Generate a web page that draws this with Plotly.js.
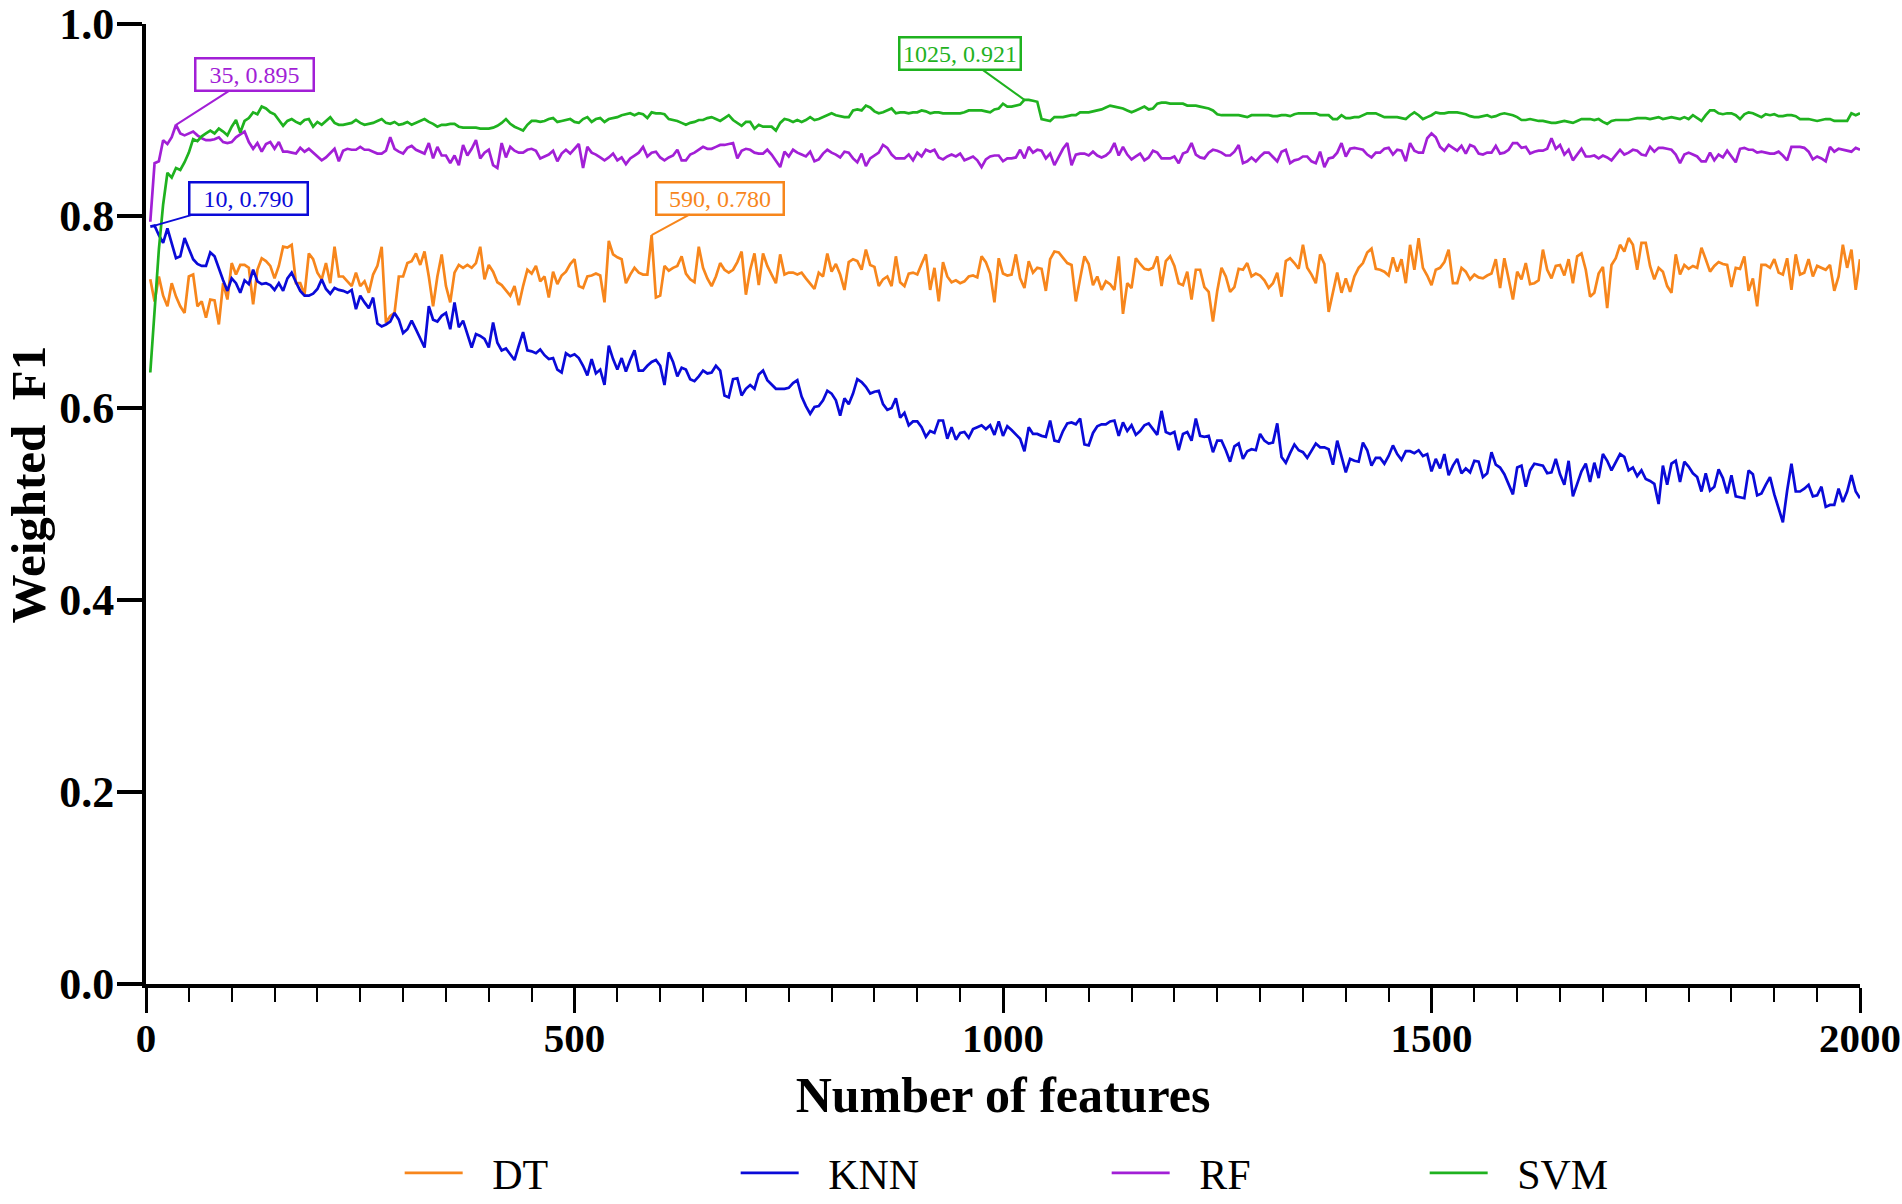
<!DOCTYPE html>
<html>
<head>
<meta charset="utf-8">
<script src="https://cdn.plot.ly/plotly-3.0.1.min.js"></script>
<style>
	html, body { margin: 0; padding: 0; background: #ffffff; }
	#chart { width: 1902px; height: 1204px; }
</style>
</head>
<body>
<div id="chart"></div>
<script>
'use strict';

// number of features goes 5, 10, ... 2000
const step = 5;
const maxFeatures = 2000;

// Weighted F1, one value per step
const dtF1 = [
	0.734,0.711,0.737,0.717,0.706,0.730,0.716,0.706,0.699,0.737,0.739,0.706,0.711,0.694,0.713,0.712,0.687,0.730,0.713,0.751,
	0.739,0.749,0.749,0.746,0.708,0.744,0.756,0.753,0.748,0.735,0.748,0.768,0.767,0.770,0.730,0.730,0.718,0.761,0.755,0.741,
	0.734,0.751,0.730,0.768,0.737,0.737,0.732,0.727,0.741,0.727,0.732,0.720,0.739,0.748,0.768,0.689,0.696,0.699,0.737,0.737,
	0.751,0.753,0.761,0.749,0.763,0.737,0.706,0.737,0.760,0.727,0.710,0.741,0.749,0.746,0.749,0.746,0.751,0.768,0.734,0.749,
	0.742,0.731,0.728,0.723,0.717,0.727,0.707,0.727,0.744,0.740,0.748,0.732,0.737,0.715,0.742,0.729,0.738,0.742,0.750,0.755,
	0.727,0.725,0.737,0.738,0.740,0.738,0.710,0.774,0.760,0.757,0.755,0.730,0.739,0.746,0.741,0.739,0.739,0.780,0.715,0.717,
	0.748,0.743,0.746,0.748,0.758,0.740,0.734,0.731,0.768,0.746,0.735,0.727,0.737,0.751,0.744,0.741,0.744,0.752,0.763,0.718,
	0.744,0.761,0.728,0.761,0.748,0.739,0.730,0.760,0.739,0.741,0.741,0.739,0.741,0.735,0.730,0.724,0.741,0.737,0.761,0.742,
	0.750,0.739,0.723,0.752,0.755,0.753,0.744,0.765,0.749,0.747,0.727,0.734,0.737,0.727,0.758,0.731,0.727,0.740,0.741,0.739,
	0.750,0.760,0.723,0.746,0.711,0.752,0.737,0.731,0.733,0.730,0.732,0.737,0.738,0.736,0.758,0.752,0.740,0.710,0.756,0.740,
	0.738,0.739,0.760,0.735,0.725,0.753,0.741,0.746,0.745,0.722,0.755,0.763,0.762,0.757,0.751,0.749,0.711,0.735,0.758,0.750,
	0.728,0.737,0.723,0.732,0.729,0.723,0.758,0.698,0.730,0.725,0.756,0.750,0.745,0.744,0.746,0.758,0.727,0.753,0.758,0.748,
	0.730,0.728,0.742,0.713,0.744,0.744,0.726,0.721,0.690,0.722,0.746,0.737,0.721,0.726,0.745,0.744,0.751,0.737,0.740,0.738,
	0.733,0.725,0.730,0.741,0.716,0.753,0.756,0.751,0.745,0.770,0.746,0.739,0.730,0.760,0.750,0.700,0.720,0.741,0.720,0.735,
	0.721,0.737,0.746,0.751,0.762,0.766,0.745,0.744,0.742,0.738,0.757,0.742,0.755,0.730,0.770,0.744,0.777,0.746,0.738,0.728,
	0.744,0.746,0.752,0.765,0.730,0.730,0.746,0.742,0.734,0.739,0.736,0.735,0.738,0.740,0.755,0.725,0.756,0.735,0.713,0.742,
	0.734,0.751,0.729,0.730,0.733,0.765,0.744,0.735,0.748,0.749,0.738,0.755,0.730,0.758,0.761,0.744,0.716,0.720,0.740,0.747,
	0.704,0.749,0.756,0.770,0.763,0.777,0.770,0.744,0.772,0.772,0.748,0.734,0.746,0.742,0.727,0.720,0.760,0.739,0.749,0.745,
	0.748,0.746,0.767,0.755,0.742,0.748,0.752,0.750,0.749,0.726,0.746,0.745,0.758,0.722,0.735,0.706,0.749,0.749,0.746,0.755,
	0.741,0.739,0.756,0.723,0.760,0.739,0.741,0.755,0.737,0.748,0.746,0.744,0.749,0.722,0.737,0.770,0.746,0.765,0.723,0.755
];

const knnF1 = [
	0.789,0.790,0.780,0.772,0.787,0.772,0.756,0.758,0.777,0.766,0.755,0.750,0.748,0.748,0.762,0.758,0.745,0.733,0.722,0.735,
	0.730,0.720,0.733,0.729,0.744,0.732,0.729,0.730,0.728,0.723,0.730,0.722,0.735,0.741,0.731,0.722,0.717,0.717,0.719,0.724,
	0.734,0.724,0.719,0.725,0.723,0.722,0.720,0.723,0.703,0.717,0.710,0.704,0.715,0.688,0.685,0.687,0.690,0.699,0.692,0.678,
	0.682,0.691,0.682,0.673,0.663,0.706,0.692,0.690,0.696,0.699,0.682,0.710,0.684,0.691,0.678,0.663,0.677,0.675,0.672,0.663,
	0.689,0.668,0.660,0.662,0.656,0.650,0.665,0.679,0.660,0.659,0.657,0.661,0.655,0.651,0.652,0.640,0.637,0.657,0.654,0.656,
	0.652,0.644,0.634,0.651,0.636,0.640,0.624,0.665,0.651,0.640,0.652,0.638,0.650,0.660,0.639,0.639,0.644,0.648,0.650,0.644,
	0.624,0.658,0.648,0.633,0.642,0.640,0.630,0.628,0.633,0.639,0.636,0.637,0.644,0.639,0.613,0.611,0.630,0.631,0.613,0.620,
	0.624,0.620,0.635,0.639,0.629,0.624,0.620,0.620,0.620,0.621,0.626,0.629,0.612,0.602,0.594,0.601,0.602,0.608,0.618,0.615,
	0.608,0.592,0.610,0.604,0.615,0.630,0.627,0.622,0.615,0.617,0.618,0.604,0.598,0.600,0.610,0.590,0.595,0.582,0.586,0.586,
	0.580,0.570,0.576,0.574,0.587,0.587,0.568,0.580,0.567,0.574,0.575,0.569,0.578,0.580,0.582,0.578,0.582,0.572,0.586,0.571,
	0.581,0.577,0.572,0.568,0.555,0.580,0.573,0.573,0.571,0.570,0.587,0.566,0.565,0.576,0.584,0.585,0.583,0.589,0.562,0.561,
	0.574,0.581,0.583,0.583,0.586,0.587,0.571,0.585,0.576,0.582,0.572,0.576,0.582,0.584,0.578,0.572,0.597,0.575,0.573,0.575,
	0.556,0.573,0.575,0.566,0.589,0.571,0.570,0.571,0.554,0.566,0.566,0.556,0.544,0.560,0.563,0.547,0.555,0.557,0.556,0.573,
	0.566,0.563,0.564,0.584,0.549,0.543,0.553,0.562,0.556,0.554,0.548,0.556,0.563,0.559,0.559,0.557,0.541,0.566,0.549,0.533,
	0.547,0.545,0.544,0.564,0.556,0.540,0.548,0.548,0.542,0.550,0.561,0.552,0.546,0.555,0.555,0.553,0.556,0.550,0.552,0.534,
	0.547,0.537,0.552,0.530,0.540,0.547,0.532,0.537,0.533,0.545,0.544,0.528,0.532,0.554,0.541,0.538,0.531,0.520,0.510,0.538,
	0.540,0.518,0.535,0.542,0.541,0.540,0.532,0.533,0.547,0.531,0.520,0.545,0.508,0.522,0.534,0.542,0.523,0.543,0.527,0.552,
	0.545,0.535,0.544,0.552,0.549,0.535,0.538,0.529,0.535,0.526,0.524,0.521,0.500,0.540,0.520,0.542,0.545,0.523,0.544,0.539,
	0.532,0.528,0.513,0.532,0.514,0.518,0.536,0.527,0.511,0.530,0.508,0.507,0.506,0.535,0.531,0.509,0.511,0.520,0.528,0.510,
	0.495,0.481,0.514,0.542,0.513,0.513,0.516,0.520,0.508,0.509,0.518,0.497,0.499,0.499,0.516,0.502,0.513,0.530,0.513,0.506
];

const rfF1 = [
	0.794,0.855,0.857,0.879,0.875,0.882,0.895,0.886,0.884,0.886,0.888,0.884,0.881,0.879,0.879,0.880,0.882,0.877,0.876,0.877,
	0.882,0.885,0.888,0.877,0.870,0.876,0.867,0.875,0.877,0.870,0.877,0.867,0.867,0.866,0.865,0.871,0.867,0.870,0.866,0.862,
	0.858,0.861,0.866,0.870,0.857,0.868,0.870,0.869,0.869,0.872,0.869,0.869,0.867,0.865,0.865,0.868,0.882,0.870,0.867,0.865,
	0.871,0.873,0.869,0.867,0.865,0.876,0.860,0.872,0.863,0.863,0.855,0.863,0.853,0.874,0.863,0.870,0.879,0.860,0.866,0.869,
	0.853,0.850,0.876,0.861,0.872,0.868,0.866,0.866,0.869,0.870,0.868,0.860,0.862,0.864,0.868,0.857,0.865,0.869,0.865,0.870,
	0.875,0.850,0.872,0.866,0.864,0.861,0.858,0.861,0.865,0.858,0.861,0.854,0.860,0.863,0.866,0.872,0.862,0.866,0.867,0.861,
	0.858,0.861,0.863,0.869,0.858,0.858,0.864,0.866,0.869,0.872,0.870,0.870,0.872,0.874,0.874,0.875,0.876,0.860,0.868,0.870,
	0.869,0.866,0.865,0.865,0.869,0.864,0.858,0.851,0.867,0.862,0.869,0.866,0.864,0.862,0.867,0.857,0.859,0.865,0.869,0.866,
	0.864,0.861,0.867,0.866,0.860,0.856,0.865,0.852,0.860,0.863,0.866,0.874,0.871,0.864,0.860,0.860,0.860,0.864,0.858,0.866,
	0.862,0.869,0.867,0.869,0.861,0.859,0.862,0.864,0.862,0.865,0.858,0.860,0.862,0.858,0.851,0.859,0.862,0.863,0.863,0.857,
	0.860,0.860,0.861,0.869,0.860,0.872,0.866,0.869,0.868,0.860,0.865,0.853,0.862,0.870,0.876,0.853,0.864,0.865,0.865,0.863,
	0.867,0.863,0.861,0.863,0.867,0.876,0.863,0.872,0.864,0.859,0.862,0.865,0.858,0.861,0.868,0.866,0.860,0.860,0.860,0.862,
	0.855,0.865,0.867,0.876,0.864,0.861,0.860,0.866,0.869,0.868,0.866,0.863,0.863,0.867,0.874,0.855,0.857,0.861,0.857,0.862,
	0.866,0.866,0.862,0.857,0.867,0.869,0.855,0.858,0.859,0.862,0.862,0.857,0.855,0.867,0.851,0.860,0.861,0.866,0.876,0.862,
	0.870,0.871,0.870,0.869,0.864,0.861,0.866,0.866,0.870,0.871,0.864,0.869,0.868,0.857,0.876,0.868,0.866,0.866,0.881,0.886,
	0.882,0.872,0.868,0.874,0.871,0.868,0.873,0.865,0.874,0.872,0.865,0.864,0.866,0.866,0.873,0.865,0.866,0.869,0.876,0.876,
	0.871,0.872,0.865,0.867,0.868,0.868,0.870,0.881,0.870,0.874,0.864,0.869,0.858,0.864,0.870,0.862,0.862,0.863,0.860,0.863,
	0.861,0.858,0.863,0.869,0.864,0.866,0.869,0.868,0.864,0.863,0.872,0.867,0.871,0.871,0.870,0.869,0.864,0.855,0.864,0.866,
	0.864,0.862,0.857,0.857,0.866,0.858,0.864,0.861,0.868,0.862,0.856,0.870,0.871,0.869,0.869,0.866,0.867,0.866,0.865,0.865,
	0.867,0.863,0.858,0.872,0.872,0.872,0.871,0.867,0.859,0.862,0.860,0.857,0.872,0.867,0.870,0.869,0.868,0.867,0.871,0.869
];

const svmF1 = [
	0.637,0.700,0.765,0.812,0.845,0.840,0.850,0.848,0.856,0.866,0.880,0.878,0.883,0.886,0.889,0.886,0.891,0.888,0.884,0.893,
	0.900,0.887,0.899,0.902,0.908,0.906,0.914,0.912,0.908,0.906,0.900,0.894,0.899,0.901,0.898,0.896,0.900,0.901,0.893,0.898,
	0.895,0.899,0.903,0.897,0.895,0.895,0.896,0.897,0.900,0.897,0.895,0.896,0.897,0.899,0.901,0.897,0.896,0.898,0.895,0.896,
	0.898,0.895,0.897,0.899,0.901,0.898,0.896,0.893,0.895,0.895,0.896,0.896,0.893,0.892,0.892,0.892,0.892,0.891,0.891,0.891,
	0.892,0.894,0.897,0.901,0.896,0.893,0.891,0.889,0.895,0.899,0.899,0.898,0.899,0.901,0.902,0.898,0.899,0.900,0.901,0.898,
	0.897,0.901,0.903,0.898,0.901,0.902,0.898,0.901,0.902,0.903,0.905,0.906,0.907,0.905,0.907,0.906,0.902,0.908,0.907,0.907,
	0.906,0.901,0.900,0.899,0.897,0.895,0.897,0.898,0.900,0.900,0.902,0.903,0.901,0.899,0.902,0.905,0.900,0.897,0.894,0.898,
	0.898,0.891,0.895,0.893,0.893,0.893,0.889,0.897,0.901,0.900,0.898,0.900,0.898,0.900,0.903,0.900,0.901,0.903,0.905,0.907,
	0.905,0.904,0.903,0.903,0.910,0.911,0.910,0.915,0.913,0.909,0.907,0.908,0.910,0.912,0.907,0.908,0.908,0.907,0.908,0.908,
	0.910,0.909,0.907,0.908,0.908,0.907,0.907,0.907,0.907,0.907,0.908,0.910,0.910,0.910,0.910,0.909,0.908,0.911,0.912,0.917,
	0.914,0.914,0.915,0.916,0.921,0.921,0.920,0.919,0.901,0.900,0.899,0.903,0.903,0.903,0.904,0.905,0.905,0.908,0.908,0.908,
	0.909,0.910,0.911,0.913,0.915,0.914,0.913,0.912,0.910,0.908,0.910,0.912,0.914,0.911,0.912,0.917,0.918,0.918,0.917,0.917,
	0.917,0.917,0.915,0.915,0.915,0.914,0.913,0.912,0.910,0.906,0.905,0.905,0.905,0.905,0.905,0.904,0.903,0.905,0.905,0.905,
	0.905,0.905,0.904,0.904,0.905,0.905,0.904,0.906,0.907,0.907,0.907,0.907,0.907,0.905,0.905,0.905,0.901,0.901,0.905,0.902,
	0.902,0.903,0.903,0.905,0.907,0.907,0.907,0.905,0.903,0.903,0.903,0.903,0.902,0.901,0.905,0.908,0.905,0.901,0.903,0.905,
	0.908,0.907,0.907,0.908,0.908,0.908,0.907,0.906,0.904,0.903,0.903,0.904,0.905,0.903,0.904,0.906,0.907,0.906,0.905,0.903,
	0.900,0.900,0.901,0.900,0.899,0.899,0.898,0.897,0.897,0.898,0.899,0.898,0.897,0.899,0.901,0.901,0.901,0.900,0.901,0.898,
	0.896,0.899,0.900,0.900,0.900,0.900,0.901,0.902,0.902,0.902,0.901,0.902,0.903,0.901,0.902,0.903,0.902,0.901,0.903,0.901,
	0.905,0.902,0.899,0.905,0.910,0.910,0.907,0.906,0.907,0.907,0.905,0.901,0.906,0.908,0.907,0.905,0.903,0.906,0.905,0.906,
	0.904,0.904,0.905,0.905,0.904,0.901,0.901,0.901,0.900,0.899,0.900,0.901,0.901,0.899,0.899,0.899,0.899,0.907,0.905,0.907
];

const modelNames = ["DT", "KNN", "RF", "SVM"];
const modelColors = ["#f7861c", "#0a0ad8", "#a21fd6", "#1fb21f"];

// best point of each model, marked with a callout box
const bestFeatures = [590, 10, 35, 1025];
const bestF1 = [0.780, 0.790, 0.895, 0.921];
const calloutShift = [[68, -37], [94, -27], [78, -50], [-64, -46]];
const calloutWidth = [121, 112, 112, 115];

// the legend entries are not evenly spread in the figure
const legendWidths = [263, 298, 245, 245];

const features = [];
for(let f = step; f <= maxFeatures; f += step)
{
	features.push(f);
}

const serif = "Liberation Serif, Times New Roman, serif";
const series = [dtF1, knnF1, rfF1, svmF1];

const traces = series.map(function(vals, i) {
	return {
		x: features,
		y: vals,
		// a couple of spaces keep the label clear of the legend line
		name: "\u00a0\u00a0\u200a" + modelNames[i],
		legendwidth: legendWidths[i],
		type: 'scatter',
		mode: 'lines',
		line: {color: modelColors[i], width: 2.7}
	};
});

const notes = bestFeatures.map(function(f, i) {
	return {
		x: f,
		y: bestF1[i],
		xref: 'x',
		yref: 'y',
		text: f + ", " + bestF1[i].toFixed(3),
		width: calloutWidth[i],
		showarrow: true,
		arrowhead: 0,
		arrowwidth: 2,
		arrowcolor: modelColors[i],
		ax: calloutShift[i][0],
		ay: calloutShift[i][1],
		font: {family: serif, size: 24, color: modelColors[i]},
		bordercolor: modelColors[i],
		borderwidth: 2.5,
		borderpad: 2,
		bgcolor: '#ffffff'
	};
});

// y title sits a bit above the middle of the axis in the figure
notes.push({
	text: 'Weighted\u00a0\u00a0F1',
	xref: 'paper',
	yref: 'paper',
	x: -0.0685,
	y: 0.52,
	xanchor: 'center',
	yanchor: 'middle',
	textangle: -90,
	showarrow: false,
	font: {family: serif, size: 49, weight: 'bold', color: '#000000'}
});

const layout = {
	width: 1902,
	height: 1204,
	paper_bgcolor: '#ffffff',
	plot_bgcolor: '#ffffff',
	margin: {l: 146, r: 42, t: 24, b: 220, autoexpand: false},
	showlegend: true,
	font: {family: serif, color: '#000000'},
	xaxis: {
		range: [0, 2000],
		dtick: 500,
		tick0: 0,
		showgrid: false,
		zeroline: false,
		showline: true,
		linewidth: 4,
		linecolor: '#000000',
		ticks: 'outside',
		ticklen: 25,
		tickwidth: 3,
		tickcolor: '#000000',
		ticklabeloverflow: 'allow',
		ticklabelstandoff: -10,
		minor: {dtick: 50, ticks: 'outside', ticklen: 14, tickwidth: 2, tickcolor: '#000000'},
		tickfont: {family: serif, size: 41, weight: 'bold'},
		title: {
			text: 'Number of features',
			font: {family: serif, size: 50, weight: 'bold'},
			standoff: 18
		}
	},
	yaxis: {
		range: [0, 1],
		dtick: 0.2,
		tick0: 0,
		tickformat: '.1f',
		showgrid: false,
		zeroline: false,
		showline: true,
		linewidth: 4,
		linecolor: '#000000',
		ticks: 'outside',
		ticklen: 25,
		tickwidth: 4,
		tickcolor: '#000000',
		ticklabeloverflow: 'allow',
		ticklabelstandoff: -6,
		tickfont: {family: serif, size: 44, weight: 'bold'}
	},
	legend: {
		orientation: 'h',
		x: 0.148,
		xanchor: 'left',
		y: -0.197,
		yanchor: 'middle',
		font: {family: serif, size: 42},
		itemwidth: 58,
		bgcolor: 'rgba(0,0,0,0)'
	},
	annotations: notes
};

Plotly.newPlot('chart', traces, layout, {displayModeBar: false, staticPlot: true});
</script>
</body>
</html>
